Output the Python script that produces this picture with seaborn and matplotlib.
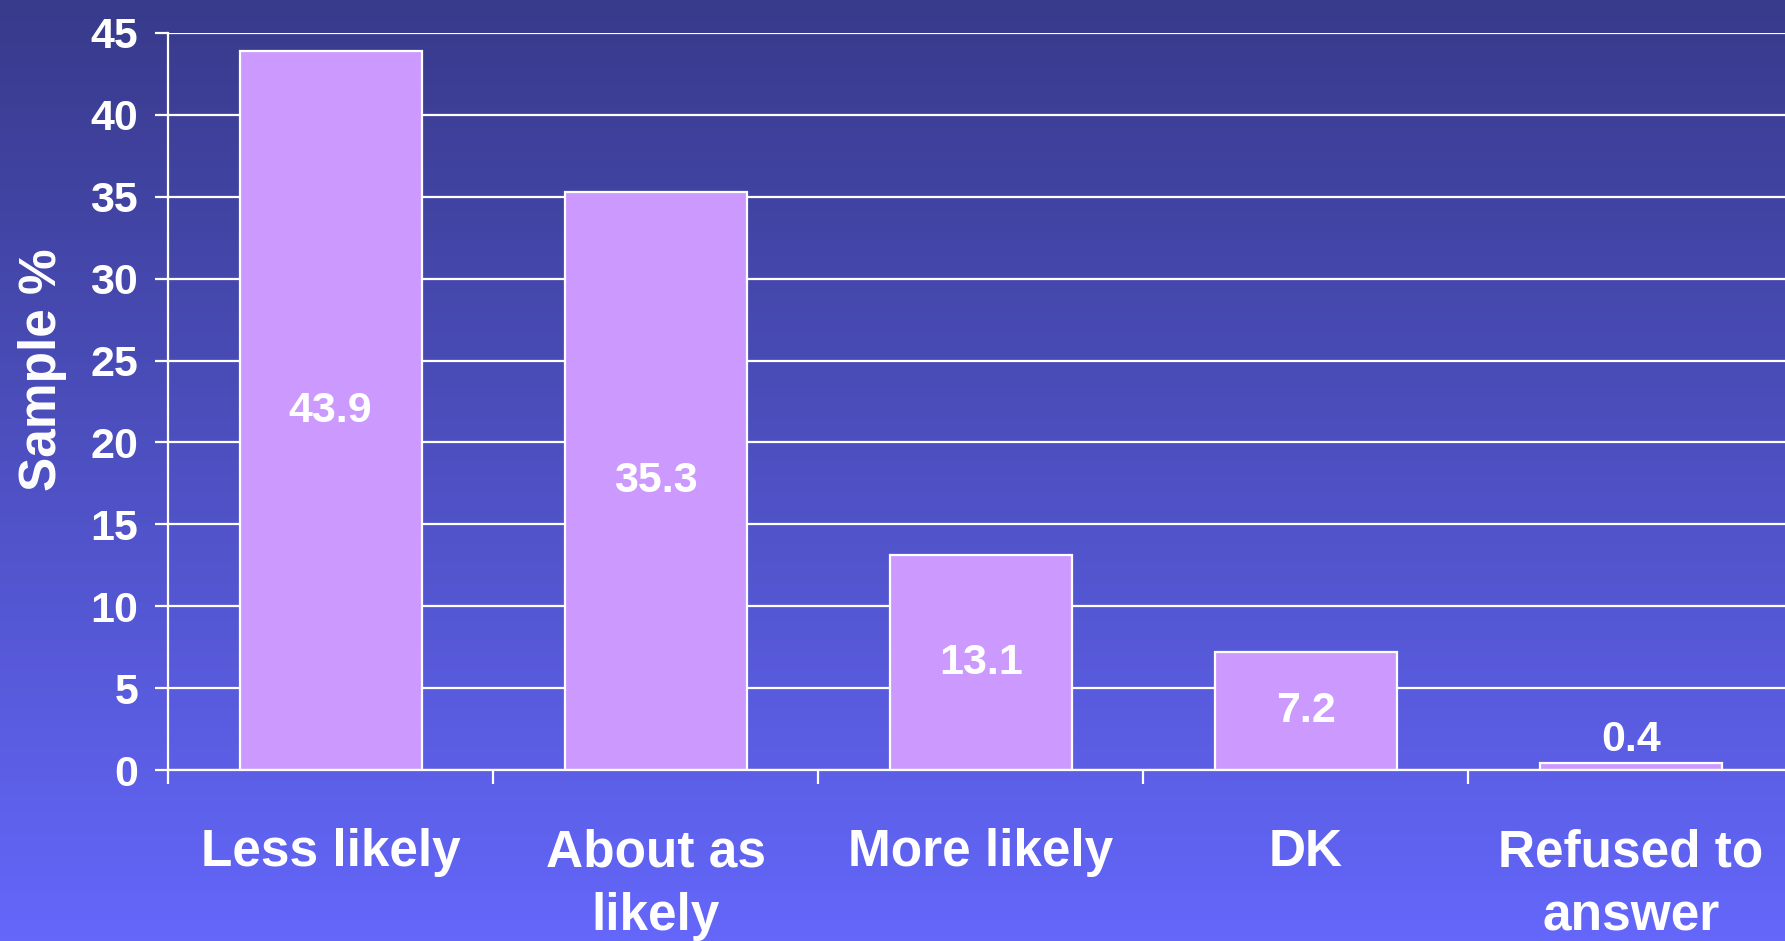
import numpy as np
import pandas as pd
import matplotlib
matplotlib.use("Agg")
import matplotlib.pyplot as plt
from matplotlib.colors import LinearSegmentedColormap
import seaborn as sns

categories = ["Less likely", "About as\nlikely", "More likely", "DK", "Refused to\nanswer"]
values = [43.9, 35.3, 13.1, 7.2, 0.4]
value_labels = ["43.9", "35.3", "13.1", "7.2", "0.4"]
yticks = [0, 5, 10, 15, 20, 25, 30, 35, 40, 45]

sns.set_theme(style="white")
plt.rcParams['font.family'] = ['Liberation Sans', 'DejaVu Sans']

fig = plt.figure(figsize=(17.85, 9.41), dpi=100)

# background gradient
bg = fig.add_axes([0, 0, 1, 1], zorder=-10)
cmap = LinearSegmentedColormap.from_list("bg", ["#383A8B", "#6467FA"])
grad = np.linspace(0, 1, 256).reshape(-1, 1)
bg.imshow(grad, aspect="auto", cmap=cmap, extent=[0, 1, 0, 1], origin="upper")
bg.set_axis_off()

ax = fig.add_axes([168/1785, 1 - 770/941, 1 - 168/1785, (770 - 33)/941], zorder=1)
ax.patch.set_alpha(0)

df = pd.DataFrame({"cat": categories, "val": values})
sns.barplot(data=df, x="cat", y="val", ax=ax, color="#CC99FF", saturation=1,
            width=0.56, edgecolor="white", linewidth=1.6, zorder=3)

ax.set_ylim(0, 45)
ax.set_xlim(-0.5, 4.474)
ax.set_yticks(yticks)
ax.set_yticklabels([str(t) for t in yticks])
for t in yticks:
    ax.axhline(t, color="white", lw=1.6, zorder=1)

# x ticks: labels at centres, marks at boundaries
ax.set_xticks(range(len(categories)))
ax.set_xticklabels(categories, linespacing=1.39)
ax.set_xticks([i - 0.5 for i in range(len(categories))], minor=True)
ax.tick_params(axis="x", which="major", length=0, pad=42, labelsize=37, labelcolor="white")
ax.tick_params(axis="x", which="minor", length=10, width=1.6, color="white", direction="out", bottom=True)
ax.tick_params(axis="y", which="major", length=9.5, width=1.6, color="white", direction="out",
               left=True, pad=12, labelsize=31, labelcolor="white")
for lab in ax.get_xticklabels() + ax.get_yticklabels():
    lab.set_fontweight("bold")

for s in ["top", "right"]:
    ax.spines[s].set_visible(False)
for s in ["left", "bottom"]:
    ax.spines[s].set_color("white")
    ax.spines[s].set_linewidth(1.6)
    ax.spines[s].set_zorder(4)

ax.set_xlabel("")
ax.set_ylabel("Sample %", fontsize=37, fontweight="bold", color="white")
ax.yaxis.set_label_coords(-0.0627, 0.543)

for i, (v, lab) in enumerate(zip(values, value_labels)):
    if v > 3:
        ax.text(i, v / 2, lab, ha="center", va="center", fontsize=31,
                fontweight="bold", color="white", zorder=5)
    else:
        ax.annotate(lab, (i, v), xytext=(0, 2.5), textcoords="offset points",
                    ha="center", va="bottom", fontsize=31, fontweight="bold",
                    color="white", zorder=5)

ax.grid(False)
fig.savefig("out.png", dpi=100)
